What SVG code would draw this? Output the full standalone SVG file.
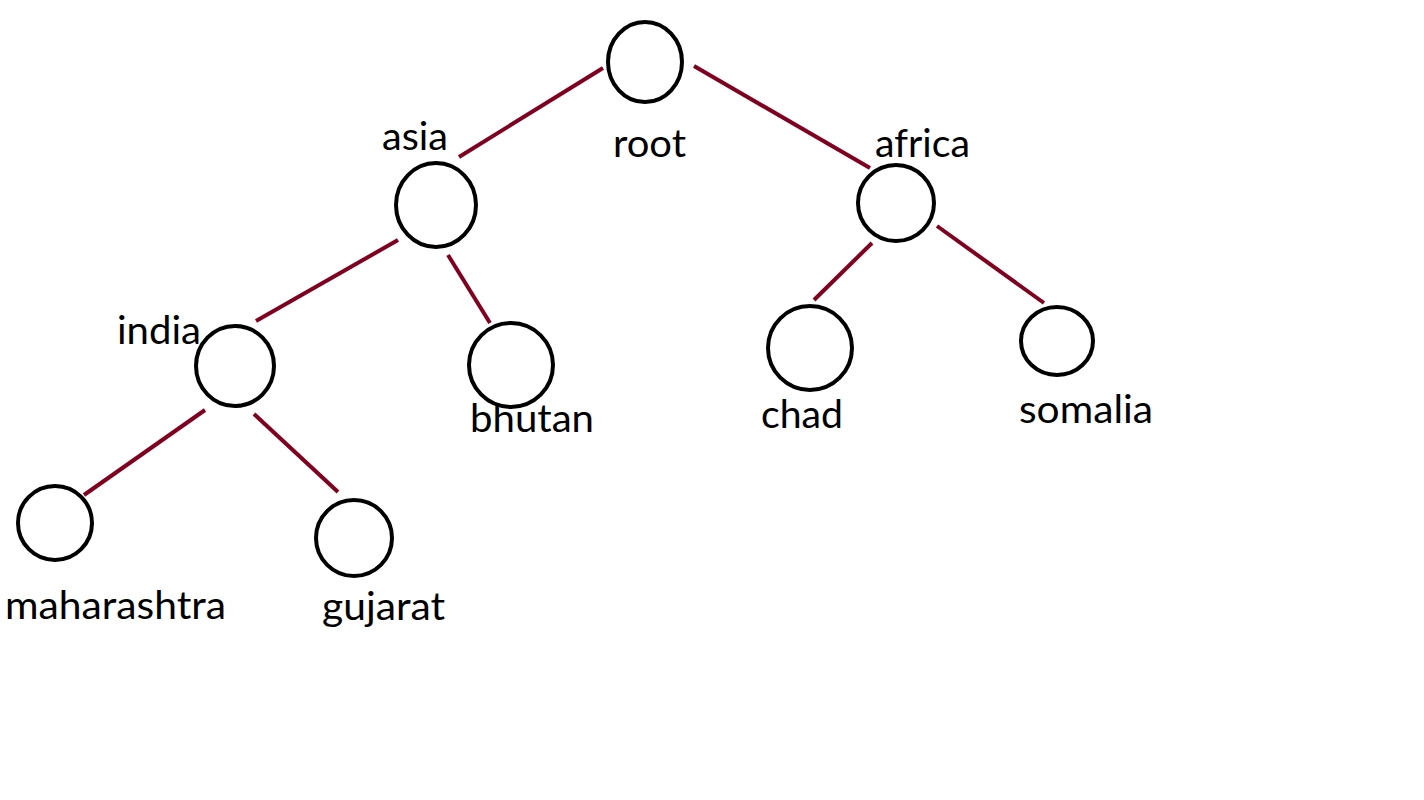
<svg xmlns="http://www.w3.org/2000/svg" width="1424" height="800" viewBox="0 0 1424 800">
<style>
.n ellipse{fill:none;stroke:#000;stroke-width:4}
.e line{stroke:#800020;stroke-width:4;stroke-linecap:butt}
text{font-family:Lato,"Open Sans",sans-serif;font-size:38px;fill:#000}
</style>
<rect width="1424" height="800" fill="#fff"/>
<g id="connectors" class="e">
<line x1="603" y1="68" x2="459" y2="157"/>
<line x1="694" y1="66" x2="870" y2="168"/>
<line x1="398" y1="240" x2="256" y2="321"/>
<line x1="448" y1="255" x2="490" y2="323"/>
<line x1="872" y1="243" x2="814" y2="300"/>
<line x1="937" y1="226" x2="1044" y2="303"/>
<line x1="205" y1="410" x2="84" y2="495"/>
<line x1="254" y1="414" x2="338" y2="492"/>
</g>
<g id="root" class="n"><ellipse cx="645" cy="62" rx="37" ry="40"/><text x="613" y="157" textLength="73" lengthAdjust="spacingAndGlyphs">root</text></g>
<g id="asia" class="n"><ellipse cx="436" cy="205" rx="40" ry="42"/><text x="382" y="150" textLength="66" lengthAdjust="spacingAndGlyphs">asia</text></g>
<g id="africa" class="n"><ellipse cx="896" cy="203" rx="38" ry="38"/><text x="875" y="157" textLength="95" lengthAdjust="spacingAndGlyphs">africa</text></g>
<g id="india" class="n"><ellipse cx="235" cy="366" rx="39" ry="40"/><text x="117" y="344" textLength="84" lengthAdjust="spacingAndGlyphs">india</text></g>
<g id="bhutan" class="n"><ellipse cx="511" cy="365" rx="42" ry="42"/><text x="470" y="432" textLength="124" lengthAdjust="spacingAndGlyphs">bhutan</text></g>
<g id="chad" class="n"><ellipse cx="810" cy="348" rx="42" ry="42"/><text x="761" y="428" textLength="82" lengthAdjust="spacingAndGlyphs">chad</text></g>
<g id="somalia" class="n"><ellipse cx="1057" cy="341" rx="36" ry="34"/><text x="1019" y="423" textLength="134" lengthAdjust="spacingAndGlyphs">somalia</text></g>
<g id="maharashtra" class="n"><ellipse cx="55" cy="523" rx="37" ry="37"/><text x="5" y="619" textLength="221" lengthAdjust="spacingAndGlyphs">maharashtra</text></g>
<g id="gujarat" class="n"><ellipse cx="354" cy="538" rx="38" ry="38"/><text x="322" y="620" textLength="123" lengthAdjust="spacingAndGlyphs">gujarat</text></g>
</svg>
